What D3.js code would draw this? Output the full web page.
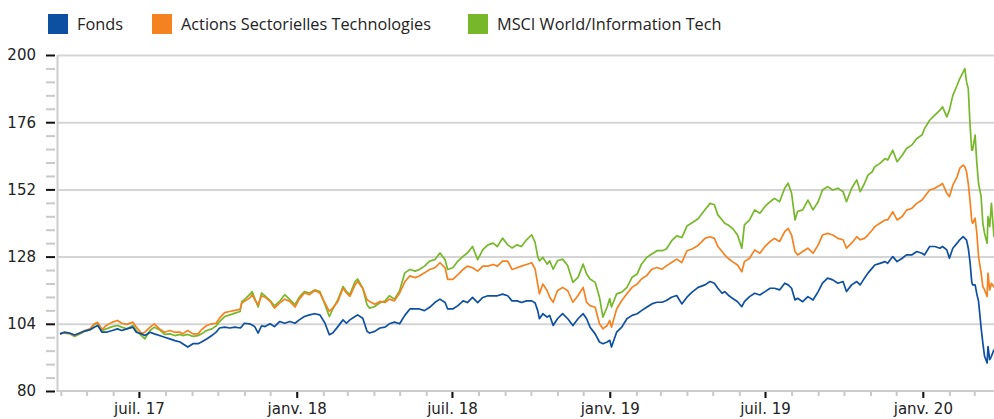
<!DOCTYPE html>
<html>
<head>
<meta charset="utf-8">
<script src="https://cdn.jsdelivr.net/npm/d3@7"></script>
<style>
  body { margin: 0; background: #fff; }
</style>
</head>
<body>
<div id="chart"></div>
<script>
// Données (base 100 au 31/03/2017)
const dates = [
  '2017-03-31','2017-04-05','2017-04-11','2017-04-17','2017-04-23','2017-04-29','2017-05-05','2017-05-10','2017-05-14','2017-05-19',
  '2017-05-24','2017-05-31','2017-06-06','2017-06-11','2017-06-17','2017-06-24','2017-06-28','2017-07-04','2017-07-08','2017-07-14',
  '2017-07-19','2017-07-25','2017-07-31','2017-08-06','2017-08-12','2017-08-18','2017-08-21','2017-08-27','2017-09-02','2017-09-08',
  '2017-09-12','2017-09-18','2017-09-24','2017-09-29','2017-10-03','2017-10-09','2017-10-15','2017-10-21','2017-10-27','2017-10-29',
  '2017-11-01','2017-11-07','2017-11-10','2017-11-13','2017-11-17','2017-11-21','2017-11-25','2017-12-01','2017-12-06','2017-12-12',
  '2017-12-18','2017-12-24','2017-12-30','2018-01-04','2018-01-10','2018-01-16','2018-01-22','2018-01-28','2018-02-03','2018-02-08',
  '2018-02-12','2018-02-18','2018-02-24','2018-02-28','2018-03-04','2018-03-10','2018-03-13','2018-03-19','2018-03-24','2018-03-27',
  '2018-04-02','2018-04-08','2018-04-14','2018-04-19','2018-04-25','2018-05-01','2018-05-07','2018-05-13','2018-05-19','2018-05-24',
  '2018-05-30','2018-06-05','2018-06-11','2018-06-17','2018-06-23','2018-06-26','2018-07-02','2018-07-08','2018-07-14','2018-07-19',
  '2018-07-25','2018-07-31','2018-08-06','2018-08-12','2018-08-18','2018-08-23','2018-08-29','2018-09-04','2018-09-09','2018-09-15',
  '2018-09-20','2018-09-26','2018-10-02','2018-10-06','2018-10-09','2018-10-11','2018-10-15','2018-10-20','2018-10-23','2018-10-27',
  '2018-11-01','2018-11-07','2018-11-13','2018-11-19','2018-11-25','2018-12-01','2018-12-05','2018-12-09','2018-12-15','2018-12-20',
  '2018-12-24','2018-12-29','2019-01-01','2019-01-03','2019-01-09','2019-01-15','2019-01-21','2019-01-27','2019-02-02','2019-02-07',
  '2019-02-13','2019-02-19','2019-02-25','2019-03-03','2019-03-08','2019-03-14','2019-03-20','2019-03-26','2019-04-01','2019-04-07',
  '2019-04-14','2019-04-22','2019-04-28','2019-05-03','2019-05-07','2019-05-12','2019-05-15','2019-05-19','2019-05-24','2019-05-30',
  '2019-06-04','2019-06-07','2019-06-13','2019-06-19','2019-06-25','2019-07-01','2019-07-07','2019-07-12','2019-07-18','2019-07-24',
  '2019-07-28','2019-08-01','2019-08-05','2019-08-08','2019-08-14','2019-08-20','2019-08-26','2019-09-01','2019-09-06','2019-09-12',
  '2019-09-18','2019-09-24','2019-09-30','2019-10-04','2019-10-10','2019-10-16','2019-10-20','2019-10-25','2019-10-29','2019-11-03',
  '2019-11-06','2019-11-12','2019-11-18','2019-11-21','2019-11-27','2019-12-02','2019-12-08','2019-12-13','2019-12-19','2019-12-25',
  '2019-12-31','2020-01-03','2020-01-09','2020-01-15','2020-01-21','2020-01-24','2020-01-29','2020-02-01','2020-02-05','2020-02-10',
  '2020-02-13','2020-02-17','2020-02-19','2020-02-21','2020-02-23','2020-02-25','2020-02-27','2020-02-28','2020-03-02','2020-03-04',
  '2020-03-06','2020-03-09','2020-03-11','2020-03-13','2020-03-16','2020-03-17','2020-03-19','2020-03-21','2020-03-24'
];

const fonds = [
  100.4,101.0,100.7,100.0,100.7,101.4,101.9,102.8,103.4,101.0,
  101.0,101.6,102.2,101.6,102.2,102.8,101.0,100.4,99.8,101.0,
  100.4,99.8,99.2,98.6,98.0,97.5,96.9,95.7,96.9,96.9,
  97.5,98.6,99.8,101.0,102.5,102.8,102.5,102.8,102.5,103.0,
  104.2,104.0,103.6,103.0,100.7,103.3,103.0,104.0,103.0,104.8,
  104.2,104.8,104.2,105.4,106.6,107.2,107.6,107.2,104.2,100.1,
  100.7,103.0,105.4,104.2,105.4,106.6,107.2,106.0,101.3,100.7,
  101.3,102.5,102.8,104.0,104.6,104.0,107.0,109.3,109.3,109.3,
  108.7,109.9,111.6,112.8,111.6,109.3,109.3,110.5,112.2,111.6,
  113.4,111.6,113.4,114.0,114.0,114.0,114.6,114.0,112.2,112.2,
  111.6,112.2,112.2,111.4,108.7,105.8,107.6,106.4,107.0,103.4,
  105.8,107.6,105.8,103.4,105.8,107.6,105.8,102.8,100.4,97.5,
  96.9,97.5,98.1,95.7,101.0,102.8,105.8,107.0,107.6,108.7,
  109.9,111.1,111.7,111.7,112.3,113.5,114.1,111.1,113.5,115.3,
  117.0,117.9,119.1,118.5,116.7,114.9,115.5,114.3,113.1,111.9,
  110.1,111.9,113.7,114.9,114.3,115.5,116.7,116.7,116.1,118.5,
  117.9,116.7,112.5,113.1,111.9,113.7,112.5,115.5,118.5,120.3,
  119.7,118.5,119.1,115.5,117.9,119.1,117.9,120.3,122.1,123.9,
  125.0,125.6,126.2,125.6,128.0,126.2,127.4,128.6,128.6,129.8,
  129.2,128.6,131.6,131.6,131.0,131.6,130.4,127.4,131.0,132.8,
  134.0,135.1,134.5,133.9,131.0,126.2,119.1,117.9,117.9,114.6,
  112.0,102.5,97.1,92.4,90.0,95.9,91.2,92.4,94.8
];

const actions = [
  100.4,100.8,100.6,99.8,100.6,101.6,102.2,104.0,104.5,101.9,
  103.4,104.6,105.2,104.2,103.8,104.6,102.8,100.6,101.0,102.8,
  104.0,102.2,101.0,101.6,101.0,101.0,100.4,101.6,100.4,100.4,
  101.9,103.4,104.0,104.2,106.0,108.0,108.4,108.8,109.2,111.4,
  112.0,113.2,114.4,112.6,110.8,114.0,113.5,112.0,109.6,111.4,
  112.8,112.0,110.0,112.8,115.0,114.4,115.9,115.0,111.4,108.4,
  109.6,112.0,116.7,115.0,113.8,117.9,119.1,116.7,112.6,112.0,
  111.0,112.0,111.6,112.8,112.2,115.0,119.0,121.1,120.5,121.1,
  122.2,123.4,124.0,125.8,124.0,119.9,119.9,121.6,123.4,124.6,
  124.0,122.8,124.6,124.6,125.2,124.6,126.4,126.4,123.4,124.0,
  124.6,125.2,125.8,123.5,118.2,114.7,118.2,115.8,113.5,111.7,
  115.8,117.0,115.8,111.7,114.1,117.0,111.7,110.5,109.9,104.0,
  102.2,103.4,105.2,102.8,109.3,112.3,114.7,117.0,118.2,120.0,
  121.2,123.5,124.1,123.5,124.7,125.9,127.1,125.9,130.1,130.7,
  132.0,134.5,135.1,134.5,131.6,129.8,128.6,127.4,126.2,125.0,
  122.6,126.2,127.4,130.4,129.2,131.6,133.4,134.5,133.4,136.9,
  138.1,135.7,129.8,128.6,129.8,131.0,129.2,132.2,135.7,136.3,
  135.7,134.5,134.0,131.0,132.8,135.1,134.0,134.5,135.7,137.5,
  138.7,139.9,141.1,141.1,144.0,141.1,142.3,144.6,145.2,147.0,
  148.2,149.4,151.8,152.4,153.5,154.1,150.6,149.4,153.5,156.5,
  159.5,160.7,160.1,158.3,154.1,148.2,141.1,139.9,141.7,136.3,
  128.0,122.1,117.3,116.1,113.8,122.1,116.1,118.5,117.0
];

const msci = [
  100.4,100.7,100.5,99.5,100.4,101.4,101.9,103.8,104.2,101.6,
  102.2,103.0,103.4,102.8,102.2,103.4,101.6,99.8,98.6,101.6,
  102.8,101.9,100.2,100.4,99.8,100.2,99.8,100.2,99.5,99.8,
  100.4,101.6,102.2,103.2,104.8,106.6,107.2,107.8,108.4,112.0,
  112.6,114.4,115.5,113.2,110.0,115.0,114.0,112.3,110.4,112.0,
  114.4,112.6,110.8,113.5,115.5,115.0,116.1,115.5,110.8,106.6,
  109.2,112.6,117.3,115.5,114.4,119.1,120.0,116.7,110.8,109.6,
  110.2,111.5,112.2,114.0,112.8,115.8,122.2,123.4,122.8,123.4,
  124.6,126.4,126.9,129.3,126.9,123.4,124.0,126.4,128.1,129.3,
  131.6,126.9,130.5,132.2,132.8,131.6,134.6,132.2,131.1,132.2,
  131.6,134.0,135.8,133.0,128.0,126.5,127.7,125.3,126.5,123.5,
  126.5,127.1,124.7,118.8,120.6,125.3,121.8,120.0,118.8,113.5,
  106.4,110.0,113.0,110.0,114.7,115.3,117.0,120.6,121.8,125.3,
  127.7,128.9,130.1,130.1,130.7,133.6,135.4,134.8,138.9,140.1,
  141.5,144.7,147.0,146.5,142.9,141.1,139.9,139.3,138.1,135.7,
  131.0,139.3,141.1,144.7,143.5,145.9,147.6,148.8,147.6,152.4,
  154.2,150.6,141.1,144.1,144.7,148.2,144.7,147.6,151.8,153.0,
  151.8,152.4,151.2,147.6,152.4,155.4,151.2,154.1,157.1,158.3,
  160.1,161.3,163.0,162.5,166.0,161.9,164.2,166.6,167.8,170.2,
  171.4,173.7,176.7,178.5,180.3,181.5,177.9,180.3,185.6,189.2,
  191.5,193.9,195.1,190.4,188.0,175.5,166.0,166.0,171.4,161.3,
  154.1,149.4,139.9,136.3,132.8,142.3,138.7,147.0,135.0
];

const seriesNames = ['Fonds', 'Actions Sectorielles Technologies', 'MSCI World/Information Tech'];
const yTicks = [80, 104, 128, 152, 176, 200];
const xTickDates = ['2017-07-01', '2018-01-01', '2018-07-01', '2019-01-01', '2019-07-01', '2020-01-01'];
const xTickLabels = ['juil. 17', 'janv. 18', 'juil. 18', 'janv. 19', 'juil. 19', 'janv. 20'];

// Mise en page
const WIDTH = 994;
const HEIGHT = 419;
const PLOT = { LEFT: 58, RIGHT: 994, TOP: 55, BOTTOM: 391 };
const COLORS = ['#0d4fa0', '#f58220', '#76b82a'];
const LABEL_FONT = 'DejaVu Sans, Verdana, sans-serif';
const LEGEND_FONT = 'Open Sans, sans-serif';

const parse = d3.timeParse('%Y-%m-%d');
const parsedDates = dates.map(parse);

const svg = d3.select('#chart').append('svg')
  .attr('width', WIDTH)
  .attr('height', HEIGHT)
  .style('display', 'block');

const x = d3.scaleTime()
  .domain([parsedDates[0], parsedDates[parsedDates.length - 1]])
  .range([60, PLOT.RIGHT]);

const y = d3.scaleLinear()
  .domain([yTicks[0], yTicks[yTicks.length - 1]])
  .range([PLOT.BOTTOM, PLOT.TOP]);

// Grille horizontale
const grid = svg.append('g')
  .attr('transform', `translate(${PLOT.LEFT},0)`)
  .call(d3.axisLeft(y).tickValues(yTicks.slice(1)).tickSize(-(PLOT.RIGHT - PLOT.LEFT)).tickFormat(''));
grid.select('.domain').remove();
grid.selectAll('line').attr('stroke', '#d5d5d5').attr('stroke-width', 2);

// Petites graduations de l'axe Y (4 entre chaque grande)
const minorY = [];
for (let k = 0; k < yTicks.length - 1; k++) {
  const step = (yTicks[k + 1] - yTicks[k]) / 5;
  for (let j = 1; j < 5; j++) minorY.push(yTicks[k] + j * step);
}
const yMinor = svg.append('g')
  .attr('transform', 'translate(55,0)')
  .call(d3.axisLeft(y).tickValues(minorY).tickSize(9).tickFormat(''));
yMinor.select('.domain').remove();
yMinor.selectAll('line').attr('stroke', '#c9c9c9').attr('stroke-width', 2);

// Axe Y principal
const yAxis = svg.append('g')
  .attr('transform', 'translate(55,0)')
  .call(d3.axisLeft(y).tickValues(yTicks).tickSize(9).tickPadding(10));
yAxis.select('.domain').remove();
yAxis.selectAll('line').attr('stroke', '#111').attr('stroke-width', 2);
yAxis.selectAll('text')
  .attr('fill', '#222')
  .style('font-family', LABEL_FONT)
  .style('font-size', '15px');

// Ligne verticale de l'axe Y
svg.append('line')
  .attr('x1', PLOT.LEFT - 0.5).attr('x2', PLOT.LEFT - 0.5)
  .attr('y1', PLOT.TOP).attr('y2', PLOT.BOTTOM + 1)
  .attr('stroke', '#cdcdcd').attr('stroke-width', 2);

// Petites graduations de l'axe X (mensuelles)
const xMinor = svg.append('g')
  .attr('transform', `translate(0,${PLOT.BOTTOM})`)
  .call(d3.axisBottom(x).tickValues(d3.timeMonth.range(x.domain()[0], x.domain()[1])).tickSize(5).tickFormat(''));
xMinor.select('.domain').remove();
xMinor.selectAll('line').attr('stroke', '#c9c9c9').attr('stroke-width', 2);

// Axe X principal
const xAxis = svg.append('g')
  .attr('transform', `translate(0,${PLOT.BOTTOM})`)
  .call(d3.axisBottom(x)
    .tickValues(xTickDates.map(parse))
    .tickFormat((d, i) => xTickLabels[i])
    .tickSize(7)
    .tickPadding(5));
xAxis.select('.domain').remove();
xAxis.selectAll('line').attr('stroke', '#111').attr('stroke-width', 2);
xAxis.selectAll('text')
  .attr('fill', '#222')
  .style('font-family', LABEL_FONT)
  .style('font-size', '15px');

svg.append('line')
  .attr('x1', PLOT.LEFT - 1.5).attr('x2', PLOT.RIGHT)
  .attr('y1', PLOT.BOTTOM).attr('y2', PLOT.BOTTOM)
  .attr('stroke', '#cdcdcd').attr('stroke-width', 2);

// Courbes (vert, orange puis bleu au-dessus)
const series = [fonds, actions, msci].map((values, i) => ({
  name: seriesNames[i],
  color: COLORS[i],
  points: values.map((v, j) => ({ date: parsedDates[j], value: v }))
}));

const line = d3.line()
  .x(d => x(d.date))
  .y(d => y(d.value));

svg.append('g')
  .selectAll('path')
  .data(series.slice().reverse())
  .enter()
  .append('path')
  .attr('d', d => line(d.points))
  .attr('fill', 'none')
  .attr('stroke', d => d.color)
  .attr('stroke-width', 1.7)
  .attr('stroke-linejoin', 'round');

// Légende
const legendX = [48, 152, 468];
const legend = svg.append('g')
  .selectAll('g')
  .data(series)
  .enter()
  .append('g')
  .attr('transform', (d, i) => `translate(${legendX[i]},14)`);

legend.append('rect')
  .attr('width', 20)
  .attr('height', 20)
  .attr('fill', d => d.color);

legend.append('text')
  .attr('x', 29)
  .attr('y', 16)
  .attr('fill', '#222')
  .style('font-family', LEGEND_FONT)
  .style('font-size', '16.3px')
  .text(d => d.name);
</script>
</body>
</html>
